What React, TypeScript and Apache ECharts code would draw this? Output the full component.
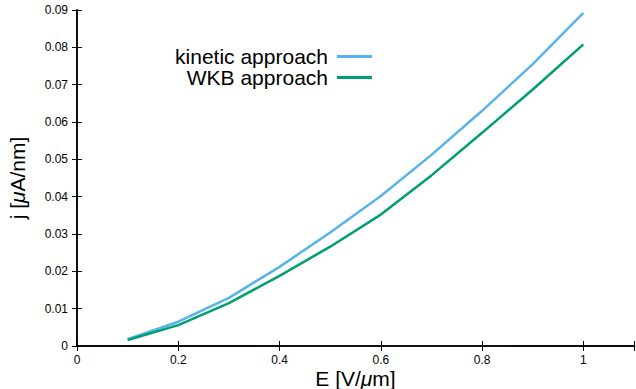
import React, { useEffect, useRef } from "react";
import * as echarts from "echarts";

const fieldE = [0.1, 0.2, 0.3, 0.4, 0.5, 0.6, 0.7, 0.8, 0.9, 1.0];
const kinetic = [0.0018, 0.0065, 0.0129, 0.0212, 0.0304, 0.0402, 0.0512, 0.063, 0.0755, 0.0892];
const wkb = [0.0016, 0.0056, 0.0115, 0.0188, 0.0266, 0.0352, 0.0457, 0.0571, 0.0687, 0.0808];
const seriesNames = ["kinetic approach", "WKB approach"];
const colors = ["#56b4e9", "#009e73"];

const FONT = "'Liberation Sans', Arial, Helvetica, sans-serif";

export default function App() {
  const ref = useRef<HTMLDivElement>(null);
  useEffect(() => {
    if (!ref.current) return;
    const chart = echarts.init(ref.current, null, { renderer: "svg" });
    const axisLine = { show: true, lineStyle: { color: "#000", width: 1.5 } };
    const tick = { show: true, inside: true, length: 5, lineStyle: { color: "#000", width: 1 } };
    const xFmt = (v: number) => (v > 1.05 ? "" : String(Math.round(v * 10) / 10));
    const yFmt = (v: number) => (v === 0 ? "0" : v.toFixed(2));
    const nameStyle = {
      fontFamily: FONT,
      fontSize: 21,
      lineHeight: 20,
      color: "#000",
      rich: { i: { fontFamily: FONT, fontSize: 21, lineHeight: 20, fontStyle: "italic", color: "#000" } },
    };
    chart.setOption({
      animation: false,
      backgroundColor: "#fff",
      grid: { left: 77, right: 2, top: 10, bottom: 43, containLabel: false, outerBoundsMode: "none" },
      xAxis: [
        {
          type: "value",
          min: 0,
          max: 1.1,
          interval: 0.2,
          position: "bottom",
          axisLine,
          axisTick: tick,
          splitLine: { show: false },
          axisLabel: { formatter: xFmt, fontFamily: FONT, fontSize: 12, lineHeight: 12, color: "#000", margin: 8 },
          name: "E [V/{i|\u03bc}m]",
          nameLocation: "middle",
          nameGap: 22,
          nameMoveOverlap: false,
          nameTextStyle: nameStyle,
        },
        {
          type: "value",
          min: 0,
          max: 1.1,
          interval: 0.2,
          position: "top",
          axisLine,
          axisTick: tick,
          splitLine: { show: false },
          axisLabel: { show: false },
        },
      ],
      yAxis: [
        {
          type: "value",
          min: 0,
          max: 0.09,
          interval: 0.01,
          position: "left",
          axisLine,
          axisTick: tick,
          splitLine: { show: false },
          axisLabel: { formatter: yFmt, fontFamily: FONT, fontSize: 12, color: "#000", margin: 9 },
          name: "j [{i|\u03bc}A/nm]",
          nameLocation: "middle",
          nameGap: 50,
          nameMoveOverlap: false,
          nameTextStyle: nameStyle,
        },
        {
          type: "value",
          min: 0,
          max: 0.09,
          interval: 0.01,
          position: "right",
          axisLine,
          axisTick: tick,
          splitLine: { show: false },
          axisLabel: { show: false },
        },
      ],
      legend: seriesNames.map((n, i) => ({
        data: [n],
        orient: "vertical",
        align: "right",
        right: 264,
        top: 46 + i * 21,
        padding: 0,
        icon: "rect",
        itemWidth: 35,
        itemHeight: 3,
        textStyle: { fontFamily: FONT, fontSize: 21, color: "#000", lineHeight: 21, padding: [0, 4, 0, 0] },
      })),
      series: [
        {
          name: seriesNames[0],
          type: "line",
          data: fieldE.map((x, i) => [x, kinetic[i]]),
          showSymbol: false,
          symbol: "none",
          lineStyle: { color: colors[0], width: 2.5 },
          itemStyle: { color: colors[0] },
        },
        {
          name: seriesNames[1],
          type: "line",
          data: fieldE.map((x, i) => [x, wkb[i]]),
          showSymbol: false,
          symbol: "none",
          lineStyle: { color: colors[1], width: 2.5 },
          itemStyle: { color: colors[1] },
        },
      ],
    });
    return () => chart.dispose();
  }, []);
  return <div ref={ref} style={{ width: 636, height: 389, position: "fixed", left: 0, top: 0 }} />;
}
